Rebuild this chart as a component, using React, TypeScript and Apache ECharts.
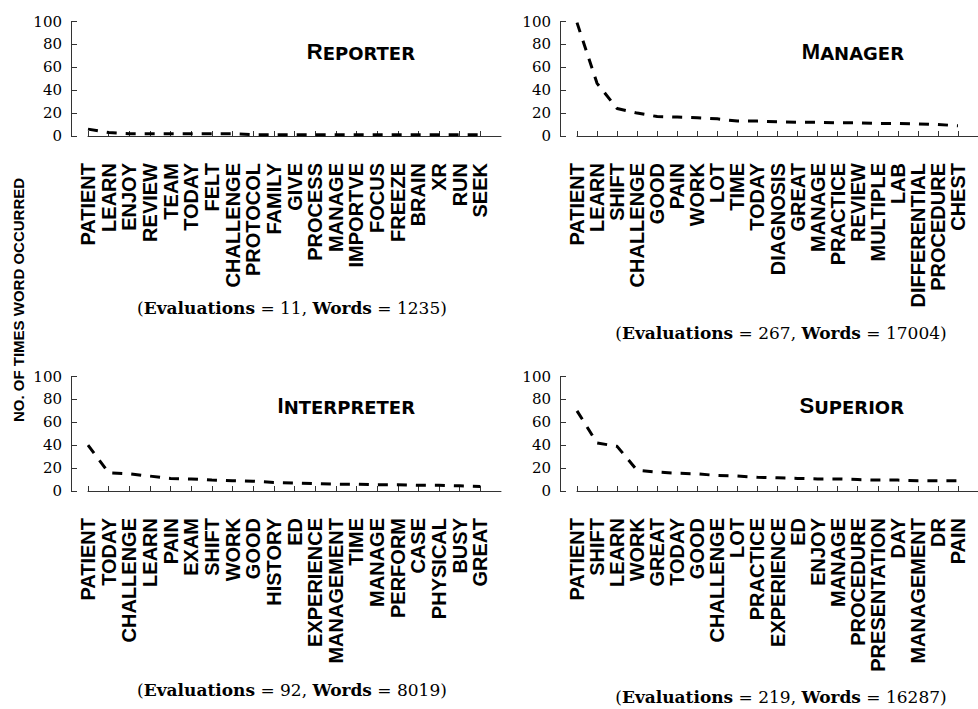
import React, { useEffect, useRef } from 'react';
import * as echarts from 'echarts';

// ---- data ----
const reporterWords = ['PATIENT', 'LEARN', 'ENJOY', 'REVIEW', 'TEAM', 'TODAY', 'FELT', 'CHALLENGE', 'PROTOCOL', 'FAMILY', 'GIVE', 'PROCESS', 'MANAGE', 'IMPORTVE', 'FOCUS', 'FREEZE', 'BRAIN', 'XR', 'RUN', 'SEEK'];
const reporterCounts = [6, 3, 2, 2, 2, 2, 2, 2, 1.2, 1.2, 1.2, 1.2, 1.2, 1.2, 1.2, 1.2, 1.2, 1.2, 1.2, 1.2];

const managerWords = ['PATIENT', 'LEARN', 'SHIFT', 'CHALLENGE', 'GOOD', 'PAIN', 'WORK', 'LOT', 'TIME', 'TODAY', 'DIAGNOSIS', 'GREAT', 'MANAGE', 'PRACTICE', 'REVIEW', 'MULTIPLE', 'LAB', 'DIFFERENTIAL', 'PROCEDURE', 'CHEST'];
const managerCounts = [99, 46, 24, 20, 17, 16.5, 16, 15, 13, 13, 12.5, 12, 12, 11.5, 11.5, 11, 11, 10.5, 10, 9];

const interpreterWords = ['PATIENT', 'TODAY', 'CHALLENGE', 'LEARN', 'PAIN', 'EXAM', 'SHIFT', 'WORK', 'GOOD', 'HISTORY', 'ED', 'EXPERIENCE', 'MANAGEMENT', 'TIME', 'MANAGE', 'PERFORM', 'CASE', 'PHYSICAL', 'BUSY', 'GREAT'];
const interpreterCounts = [40, 16, 15, 13, 11, 10.5, 9.5, 9, 8.5, 7.5, 7, 6.5, 6, 6, 5.5, 5.5, 5, 5, 4.5, 4];

const superiorWords = ['PATIENT', 'SHIFT', 'LEARN', 'WORK', 'GREAT', 'TODAY', 'GOOD', 'CHALLENGE', 'LOT', 'PRACTICE', 'EXPERIENCE', 'ED', 'ENJOY', 'MANAGE', 'PROCEDURE', 'PRESENTATION', 'DAY', 'MANAGEMENT', 'DR', 'PAIN'];
const superiorCounts = [70, 42, 39, 18, 16.5, 15.5, 15, 13.5, 13, 12, 11.5, 11, 10.5, 10.5, 10, 9.5, 9.5, 9, 9, 9];

const panelTitles = [['R', 'EPORTER'], ['M', 'ANAGER'], ['I', 'NTERPRETER'], ['S', 'UPERIOR']];
const evaluations = [11, 267, 92, 219];
const totalWords = [1235, 17004, 8019, 16287];
const yLabel = 'NO. OF TIMES WORD OCCURRED';
const yMin = 0;
const yMax = 100;
const yStep = 20;

const panelWords = [reporterWords, managerWords, interpreterWords, superiorWords];
const panelCounts = [reporterCounts, managerCounts, interpreterCounts, superiorCounts];

// ---- layout ----
const layout = [
  { left: 88, top: 21.5, titleX: 415, titleY: 51, capX: 292, capY: 308 },
  { left: 577, top: 21.5, titleX: 904, titleY: 51, capX: 781, capY: 333 },
  { left: 88, top: 376.5, titleX: 415, titleY: 405, capX: 292, capY: 690 },
  { left: 577, top: 376.5, titleX: 904, titleY: 405, capX: 781, capY: 697 },
];
const GRID_W = 413;
const GRID_H = 114.5;
const OFFSET = 17;

const SANS = '"Liberation Sans", Arial, Helvetica, sans-serif';
const SERIF = '"DejaVu Serif", serif';

export default function App() {
  const ref = useRef<HTMLDivElement>(null);

  useEffect(() => {
    if (!ref.current) return;
    const chart = echarts.init(ref.current, undefined, { renderer: 'svg' });

    const grids: any[] = [];
    const xAxes: any[] = [];
    const yAxes: any[] = [];
    const series: any[] = [];
    const graphics: any[] = [];

    panelWords.forEach((words, i) => {
      const L = layout[i];
      const n = words.length;
      grids.push({ left: L.left, top: L.top, width: GRID_W, height: GRID_H, containLabel: false });
      xAxes.push({
        type: 'category',
        gridIndex: i,
        data: [...words, ''],
        boundaryGap: false,
        offset: OFFSET,
        axisLine: { show: true, lineStyle: { color: '#333', width: 1 } },
        axisTick: { show: true, inside: true, length: 5, interval: (idx: number) => idx < n, lineStyle: { color: '#333' } },
        axisLabel: {
          show: true,
          interval: 0,
          rotate: 90,
          margin: 10,
          padding: [0, 0, 7, 0],
          color: '#000',
          fontFamily: SANS,
          fontWeight: 'bold',
          fontSize: 20,
        },
        splitLine: { show: false },
      });
      yAxes.push({
        type: 'value',
        gridIndex: i,
        min: yMin,
        max: yMax,
        interval: yStep,
        offset: OFFSET,
        axisLine: { show: true, lineStyle: { color: '#333', width: 1 } },
        axisTick: { show: true, inside: true, length: 6, lineStyle: { color: '#333' } },
        axisLabel: { color: '#000', fontFamily: SERIF, fontSize: 15, margin: 9 },
        splitLine: { show: false },
      });
      series.push({
        type: 'line',
        xAxisIndex: i,
        yAxisIndex: i,
        data: panelCounts[i],
        symbol: 'none',
        lineStyle: { color: '#000', width: 3, type: [10, 9] },
        silent: true,
      });
      const [big, small] = panelTitles[i];
      graphics.push({
        type: 'text',
        x: L.titleX,
        y: L.titleY,
        style: {
          text: `{b|${big}}{s|${small}}`,
          textAlign: 'right',
          textVerticalAlign: 'middle',
          align: 'right',
          verticalAlign: 'middle',
          rich: {
            b: { fontFamily: SANS, fontWeight: 'bold', fontSize: 22, fill: '#000', color: '#000', verticalAlign: 'bottom', lineHeight: 22 },
            s: { fontFamily: '"DejaVu Sans", sans-serif', fontWeight: 'bold', fontSize: 18, fill: '#000', color: '#000', verticalAlign: 'bottom', lineHeight: 22 },
          },
        },
      });
      graphics.push({
        type: 'text',
        x: L.capX,
        y: L.capY,
        style: {
          text: `{n|(}{b|Evaluations}{n| = ${evaluations[i]}, }{b|Words}{n| = ${totalWords[i]})}`,
          textAlign: 'center',
          textVerticalAlign: 'middle',
          align: 'center',
          verticalAlign: 'middle',
          rich: {
            n: { fontFamily: SERIF, fontSize: 17, fill: '#000', color: '#000' },
            b: { fontFamily: SERIF, fontWeight: 'bold', fontSize: 17, fill: '#000', color: '#000' },
          },
        },
      });
    });

    graphics.push({
      type: 'text',
      x: 18,
      y: 300,
      rotation: Math.PI / 2,
      style: {
        text: yLabel,
        textAlign: 'center',
        textVerticalAlign: 'middle',
        align: 'center',
        verticalAlign: 'middle',
        font: `bold 15px ${SANS}`,
        fill: '#000',
      },
    });

    chart.setOption({
      animation: false,
      backgroundColor: '#fff',
      grid: grids,
      xAxis: xAxes,
      yAxis: yAxes,
      series,
      graphic: graphics,
    });

    return () => chart.dispose();
  }, []);

  return (
    <div
      ref={ref}
      style={{ position: 'fixed', left: 0, top: 0, width: 978, height: 709, background: '#fff' }}
    />
  );
}
